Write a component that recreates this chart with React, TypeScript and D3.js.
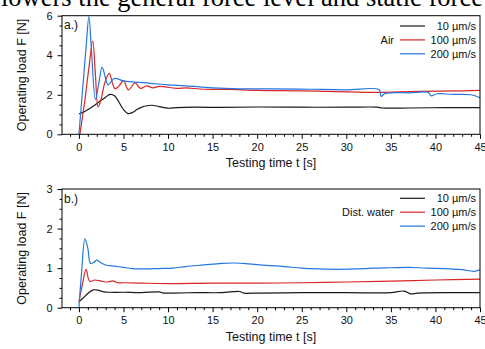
import React, { useEffect, useRef } from 'react';
import * as d3 from 'd3';

const W = 485;
const H = 349;

// panel a.) air
const airT10 = [0, 0.5, 1, 1.5, 2, 2.5, 3, 3.5, 4, 4.5, 5, 5.5, 6, 6.5, 7, 7.5, 8.2, 9, 10, 11, 13, 16, 20, 25, 30, 33.5, 34, 37, 41, 45];
const airF10 = [1.03, 1.12, 1.25, 1.4, 1.55, 1.72, 1.88, 2.02, 1.95, 1.62, 1.25, 1.05, 1.1, 1.25, 1.36, 1.43, 1.47, 1.4, 1.32, 1.35, 1.37, 1.36, 1.38, 1.37, 1.37, 1.37, 1.33, 1.33, 1.35, 1.35];
const airT100 = [0.1, 0.6, 1.1, 1.55, 1.85, 2.15, 2.5, 2.9, 3.4, 3.75, 4.05, 4.5, 5.0, 5.55, 6.3, 6.9, 7.6, 8.3, 9, 10, 11, 12, 14, 17, 20, 25, 30, 34, 36, 40, 43, 45];
const airF100 = [0, 1.5, 3.3, 4.72, 3.0, 1.38, 1.8, 2.6, 3.08, 2.6, 2.3, 2.45, 2.72, 2.25, 2.6, 2.32, 2.45, 2.35, 2.42, 2.38, 2.32, 2.35, 2.28, 2.27, 2.22, 2.2, 2.15, 2.12, 2.15, 2.18, 2.2, 2.22];
const airT200 = [0, 0.4, 0.8, 1.12, 1.4, 1.85, 2.2, 2.6, 2.95, 3.25, 3.6, 4.0, 5, 6, 8, 10, 12, 15, 18, 22, 26, 30, 33.7, 33.9, 34.3, 35, 37, 39.2, 39.5, 40.2, 42, 44, 45];
const airF200 = [0, 2.2, 4.4, 5.95, 4.3, 1.75, 2.5, 3.4, 2.9, 2.5, 2.65, 2.83, 2.7, 2.65, 2.58, 2.5, 2.45, 2.35, 2.3, 2.3, 2.28, 2.25, 2.25, 1.92, 2.05, 2.1, 2.1, 2.12, 1.95, 2.05, 2.02, 2.0, 1.85];

// panel b.) distilled water
const watT10 = [0, 0.5, 1, 1.6, 2.2, 2.8, 3.5, 5, 7, 9, 9.5, 10.5, 13, 16, 18, 18.5, 20, 25, 30, 35, 36.5, 37.2, 38, 42, 45];
const watF10 = [0.15, 0.25, 0.36, 0.45, 0.44, 0.4, 0.39, 0.39, 0.38, 0.4, 0.37, 0.37, 0.38, 0.38, 0.41, 0.37, 0.37, 0.38, 0.38, 0.38, 0.42, 0.35, 0.37, 0.38, 0.38];
const watT100 = [0, 0.4, 0.8, 1.2, 1.8, 2.5, 3.2, 3.8, 4.3, 5, 7, 10, 15, 20, 25, 30, 35, 40, 45];
const watF100 = [0.15, 0.6, 0.97, 0.67, 0.7, 0.67, 0.65, 0.68, 0.63, 0.63, 0.62, 0.61, 0.62, 0.62, 0.63, 0.65, 0.67, 0.7, 0.72];
const watT200 = [0, 0.3, 0.67, 1.0, 1.3, 1.7, 2.0, 2.5, 3, 4, 5, 6, 7.5, 9, 10.5, 12, 14, 16, 17.5, 19, 21, 23, 25, 27, 29, 31, 33, 35, 37, 39, 41, 43, 44.3, 45];
const watF200 = [0, 0.9, 1.74, 1.5, 1.12, 1.15, 1.2, 1.13, 1.08, 1.05, 1.02, 0.99, 0.98, 0.99, 1.0, 1.04, 1.08, 1.12, 1.13, 1.11, 1.07, 1.04, 1.0, 0.98, 0.97, 0.98, 1.0, 1.01, 1.02, 1.0, 0.99, 0.96, 0.92, 0.96];

const speedLabels = ['10 µm/s', '100 µm/s', '200 µm/s'];
const xTicks = [0, 5, 10, 15, 20, 25, 30, 35, 40, 45];
const colors = ['#1a1a1a', '#d92626', '#2477e0'];

const FONT = '"Liberation Sans", Arial, sans-serif';

const App = () => {
  const svgRef = useRef(null);

  useEffect(() => {
    const svg = d3.select(svgRef.current);
    svg.selectAll('*').remove();

    // clipped caption line from the page above
    svg.append('text')
      .attr('x', 1)
      .attr('y', 6)
      .attr('font-family', '"Liberation Serif", "Times New Roman", serif')
      .attr('font-size', 26.5)
      .attr('fill', '#000')
      .text('lowers the general force level and static force');

    const panels = [
      {
        tag: 'a.)', medium: 'Air', yMax: 6, yTicks: [0, 2, 4, 6], yMinor: 0.5,
        top: 15.7, bottom: 134.3, legendY: 26,
        series: [[airT10, airF10], [airT100, airF100], [airT200, airF200]],
      },
      {
        tag: 'b.)', medium: 'Dist. water', yMax: 3, yTicks: [0, 1, 2, 3], yMinor: 0.25,
        top: 189, bottom: 307.7, legendY: 198.3,
        series: [[watT10, watF10], [watT100, watF100], [watT200, watF200]],
      },
    ];

    const left = 62;
    const right = 480;

    panels.forEach((p) => {
      const x = d3.scaleLinear().domain([-1.9, 45]).range([left, right]);
      const y = d3.scaleLinear().domain([0, p.yMax]).range([p.bottom, p.top]);
      const g = svg.append('g');

      const line = d3.line()
        .x((d) => x(d[0]))
        .y((d) => y(d[1]))
        .curve(d3.curveCatmullRom.alpha(0.5));

      p.series.forEach(([ts, fs], i) => {
        g.append('path')
          .datum(ts.map((t, k) => [t, fs[k]]))
          .attr('fill', 'none')
          .attr('stroke', colors[i])
          .attr('stroke-width', 1.2)
          .attr('d', line);
      });

      // frame
      g.append('rect')
        .attr('x', left).attr('y', p.top)
        .attr('width', right - left).attr('height', p.bottom - p.top)
        .attr('fill', 'none').attr('stroke', '#000').attr('stroke-width', 1);

      // minor ticks
      const xMinor = d3.range(-1, 46, 1).filter((v) => v % 5 !== 0);
      g.append('g')
        .attr('transform', `translate(0,${p.bottom})`)
        .call(d3.axisBottom(x).tickValues(xMinor).tickSize(2.5).tickFormat(() => ''))
        .call((a) => a.select('.domain').remove());
      const yMinorVals = d3.range(0, p.yMax + 0.001, p.yMinor).filter((v) => !p.yTicks.includes(+v.toFixed(3)));
      g.append('g')
        .attr('transform', `translate(${left},0)`)
        .call(d3.axisLeft(y).tickValues(yMinorVals).tickSize(2.5).tickFormat(() => ''))
        .call((a) => a.select('.domain').remove());

      // major ticks
      g.append('g')
        .attr('transform', `translate(0,${p.bottom})`)
        .call(d3.axisBottom(x).tickValues(xTicks).tickSize(4.5).tickPadding(4).tickFormat(d3.format('d')))
        .call((a) => a.select('.domain').remove())
        .call((a) => a.selectAll('text').attr('font-size', 11).attr('font-family', FONT).attr('fill', '#111'));
      g.append('g')
        .attr('transform', `translate(${left},0)`)
        .call(d3.axisLeft(y).tickValues(p.yTicks).tickSize(4.5).tickPadding(5).tickFormat(d3.format('d')))
        .call((a) => a.select('.domain').remove())
        .call((a) => a.selectAll('text').attr('font-size', 11).attr('font-family', FONT).attr('fill', '#111'));

      // axis titles
      g.append('text')
        .attr('transform', `translate(26,${(p.top + p.bottom) / 2}) rotate(-90)`)
        .attr('text-anchor', 'middle')
        .attr('font-family', FONT).attr('font-size', 12.5).attr('fill', '#111')
        .text('Operating load F [N]');
      g.append('text')
        .attr('x', (left + right) / 2)
        .attr('y', p.bottom + 33)
        .attr('text-anchor', 'middle')
        .attr('font-family', FONT).attr('font-size', 12.5).attr('fill', '#111')
        .text('Testing time t [s]');

      // panel tag
      g.append('text')
        .attr('x', 64).attr('y', p.top + 13.5)
        .attr('font-family', FONT).attr('font-size', 12).attr('fill', '#111')
        .text(p.tag);

      // legend
      speedLabels.forEach((lab, i) => {
        const ly = p.legendY + i * 13.9;
        g.append('line')
          .attr('x1', 400).attr('x2', 425).attr('y1', ly).attr('y2', ly)
          .attr('stroke', colors[i]).attr('stroke-width', 1.2);
        g.append('text')
          .attr('x', 476).attr('y', ly + 4)
          .attr('text-anchor', 'end')
          .attr('font-family', FONT).attr('font-size', 11).attr('fill', '#111')
          .text(lab);
      });
      g.append('text')
        .attr('x', 394).attr('y', p.legendY + 13.9 + 4)
        .attr('text-anchor', 'end')
        .attr('font-family', FONT).attr('font-size', 11).attr('fill', '#111')
        .text(p.medium);
    });
  }, []);

  return (
    <div style={{ position: 'absolute', left: 0, top: 0 }}>
      <svg ref={svgRef} width={W} height={H} style={{ display: 'block', background: '#fff' }} />
    </div>
  );
};

export default App;
